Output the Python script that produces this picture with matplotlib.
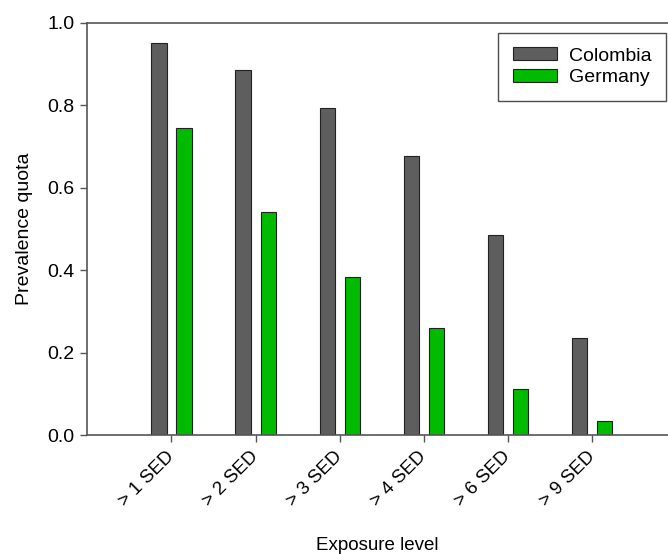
import numpy as np
import matplotlib.pyplot as plt

plt.rcParams['font.family'] = ['Liberation Sans', 'DejaVu Sans']

levels = ['> 1 SED', '> 2 SED', '> 3 SED', '> 4 SED', '> 6 SED', '> 9 SED']
colombia = [0.951, 0.887, 0.794, 0.677, 0.485, 0.235]
germany = [0.745, 0.542, 0.383, 0.260, 0.111, 0.033]

fig = plt.figure(figsize=(6.68, 5.54), dpi=100)
ax = fig.add_axes([0.130, 0.2148, 0.870, 0.7437])

x = np.arange(len(levels))
w = 0.182
ax.bar(x - 0.149, colombia, w, color='#5e5e5e', edgecolor='#222222', linewidth=0.8, label='Colombia')
ax.bar(x + 0.149, germany, w, color='#00bb00', edgecolor='#222222', linewidth=0.8, label='Germany')

ax.set_xlim(-1.006, 5.9)
ax.set_ylim(0, 1.0)
ax.set_yticks(np.arange(0, 1.01, 0.2))
ax.set_yticklabels(['%.1f' % v for v in np.arange(0, 1.01, 0.2)])
ax.set_xticks(x)
ax.set_xticklabels(levels, rotation=45, ha='right', va='center', rotation_mode='anchor')

for s in ['left', 'bottom', 'top']:
    ax.spines[s].set_color('#555555')
    ax.spines[s].set_linewidth(1.2)
ax.spines['right'].set_visible(False)
ax.tick_params(direction='out', length=5, width=1, color='#555555', labelsize=14, pad=4)
ax.tick_params(axis='x', pad=9, labelsize=13.5)

ax.set_ylabel('Prevalence quota', fontsize=14, labelpad=10)
ax.set_xlabel('Exposure level', fontsize=13.5, labelpad=19)

leg = ax.legend(loc='upper right', bbox_to_anchor=(0.997, 0.976), borderaxespad=0,
                fancybox=False, edgecolor='#222222', fontsize=14, handlelength=2.3,
                handleheight=0.65, labelspacing=0.2, borderpad=0.75, handletextpad=0.6)
leg.get_frame().set_linewidth(1.0)

fig.savefig('out.png', dpi=100)
